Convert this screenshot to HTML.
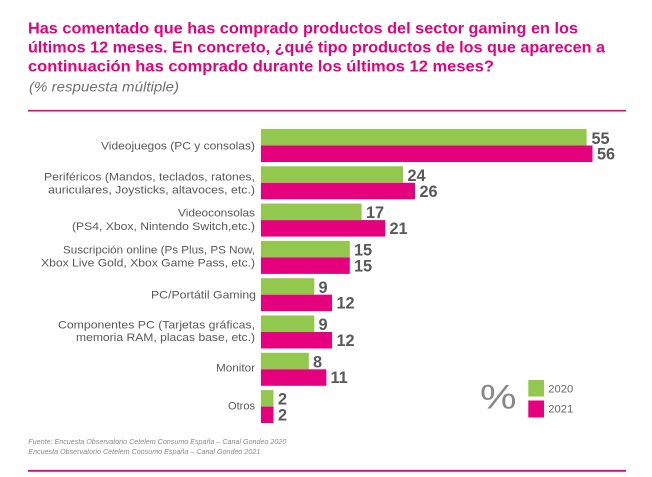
<!DOCTYPE html>
<html><head><meta charset="utf-8"><style>
html,body{margin:0;padding:0;background:#fff;}
svg{display:block;}
</style></head><body>
<svg width="652" height="477" viewBox="0 0 652 477" xmlns="http://www.w3.org/2000/svg" font-family="'Liberation Sans', Arial, sans-serif">
<rect width="652" height="477" fill="#fff"/>
<g fill="#E5007E" font-weight="bold" font-size="15.5">
<text x="28" y="33.3" textLength="550" lengthAdjust="spacingAndGlyphs">Has comentado que has comprado productos del sector gaming en los</text>
<text x="28" y="52.5" textLength="577" lengthAdjust="spacingAndGlyphs">últimos 12 meses.  En concreto, ¿qué tipo productos de los que aparecen a</text>
<text x="28" y="71.3" textLength="466" lengthAdjust="spacingAndGlyphs">continuación has comprado durante los últimos 12 meses?</text>
</g>
<text x="29" y="91.5" font-size="14" font-style="italic" fill="#707070" textLength="150" lengthAdjust="spacingAndGlyphs">(% respuesta múltiple)</text>
<line x1="28" y1="110.7" x2="626" y2="110.7" stroke="#E5007E" stroke-width="1.7"/>

<!-- bars -->
<g>
<rect x="261" y="129" width="325.6" height="16.5" fill="#92C84E"/>
<rect x="261" y="145.5" width="331.5" height="16.5" fill="#E5007E"/>
<rect x="261" y="166.3" width="142" height="16.5" fill="#92C84E"/>
<rect x="261" y="182.8" width="154" height="16.5" fill="#E5007E"/>
<rect x="261" y="203.6" width="100.6" height="16.5" fill="#92C84E"/>
<rect x="261" y="220.1" width="124.3" height="16.5" fill="#E5007E"/>
<rect x="261" y="240.9" width="88.8" height="16.5" fill="#92C84E"/>
<rect x="261" y="257.4" width="88.8" height="16.5" fill="#E5007E"/>
<rect x="261" y="278.2" width="53.3" height="16.5" fill="#92C84E"/>
<rect x="261" y="294.7" width="71" height="16.5" fill="#E5007E"/>
<rect x="261" y="315.5" width="53.3" height="16.5" fill="#92C84E"/>
<rect x="261" y="332" width="71" height="16.5" fill="#E5007E"/>
<rect x="261" y="352.8" width="47.8" height="16.5" fill="#92C84E"/>
<rect x="261" y="369.3" width="65.3" height="16.5" fill="#E5007E"/>
<rect x="261" y="390.1" width="12.5" height="16.5" fill="#92C84E"/>
<rect x="261" y="406.6" width="12.5" height="16.5" fill="#E5007E"/>
</g>

<!-- values -->
<g fill="#595959" font-weight="bold" font-size="16.3">
<text x="591.5" y="144">55</text>
<text x="597" y="159.5">56</text>
<text x="407.5" y="181">24</text>
<text x="419.5" y="196.8">26</text>
<text x="366" y="218.2">17</text>
<text x="389.5" y="234">21</text>
<text x="354" y="255.5">15</text>
<text x="354" y="271.3">15</text>
<text x="318.5" y="292.8">9</text>
<text x="336.5" y="308.6">12</text>
<text x="318.5" y="330.1">9</text>
<text x="336.5" y="345.9">12</text>
<text x="313" y="367.4">8</text>
<text x="330.5" y="383.2">11</text>
<text x="278" y="404.7">2</text>
<text x="278" y="420.5">2</text>
</g>

<!-- category labels -->
<g fill="#595959" font-size="11.2" text-anchor="end">
<text x="255" y="149.3" textLength="154" lengthAdjust="spacingAndGlyphs">Videojuegos (PC y consolas)</text>
<text x="255" y="180.7" textLength="211" lengthAdjust="spacingAndGlyphs">Periféricos (Mandos, teclados, ratones,</text>
<text x="255" y="193.3" textLength="207" lengthAdjust="spacingAndGlyphs">auriculares, Joysticks, altavoces, etc.)</text>
<text x="255" y="216.7" textLength="77" lengthAdjust="spacingAndGlyphs">Videoconsolas</text>
<text x="255" y="230" textLength="183" lengthAdjust="spacingAndGlyphs">(PS4, Xbox, Nintendo Switch,etc.)</text>
<text x="255" y="253.3" textLength="192" lengthAdjust="spacingAndGlyphs">Suscripción online (Ps Plus, PS Now,</text>
<text x="255" y="266.7" textLength="214" lengthAdjust="spacingAndGlyphs">Xbox Live Gold, Xbox Game Pass, etc.)</text>
<text x="256" y="298.3" textLength="105" lengthAdjust="spacingAndGlyphs">PC/Portátil Gaming</text>
<text x="255" y="328.3" textLength="197" lengthAdjust="spacingAndGlyphs">Componentes PC (Tarjetas gráficas,</text>
<text x="255" y="341" textLength="179" lengthAdjust="spacingAndGlyphs">memoria RAM, placas base, etc.)</text>
<text x="255" y="371.7" textLength="39" lengthAdjust="spacingAndGlyphs">Monitor</text>
<text x="255" y="409.3" textLength="27" lengthAdjust="spacingAndGlyphs">Otros</text>
</g>

<!-- legend -->
<text x="480" y="408.5" font-size="34" fill="#888" textLength="36.5" lengthAdjust="spacingAndGlyphs">%</text>
<rect x="528.3" y="380" width="15.7" height="16.5" fill="#92C84E"/>
<rect x="528.3" y="400.5" width="15.7" height="17" fill="#E5007E"/>
<text x="548.3" y="392.7" font-size="11" fill="#666" textLength="25" lengthAdjust="spacingAndGlyphs">2020</text>
<text x="548.3" y="412.7" font-size="11" fill="#666" textLength="25" lengthAdjust="spacingAndGlyphs">2021</text>

<!-- source -->
<g fill="#8a8a8a" font-size="7.6" font-style="italic">
<text x="28.3" y="444" textLength="258" lengthAdjust="spacingAndGlyphs">Fuente: Encuesta Observatorio Cetelem Consumo España – Canal Gondeo 2020</text>
<text x="28.3" y="454" textLength="232" lengthAdjust="spacingAndGlyphs">Encuesta Observatorio Cetelem Consumo España – Canal Gondeo 2021</text>
</g>
<line x1="28" y1="470.8" x2="626" y2="470.8" stroke="#E5007E" stroke-width="1.8"/>
</svg>
</body></html>
